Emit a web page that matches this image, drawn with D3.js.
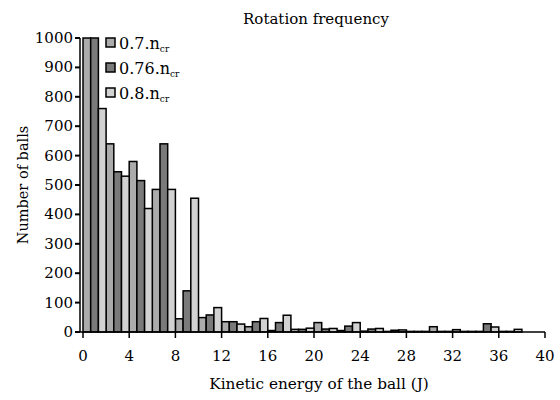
<!DOCTYPE html>
<html>
<head>
<meta charset="utf-8">
<script src="https://cdn.jsdelivr.net/npm/d3@7"></script>
<style>
  body { margin: 0; background: #fff; }
</style>
</head>
<body>
<svg id="chart" width="560" height="400"></svg>
<script>
// --- Data: bins of 2 J, three speeds per bin ---
const series = ["0.7", "0.76", "0.8"];
const binStarts = d3.range(0, 40, 2);
const v070 = [1000, 640, 580, 485, 45, 49, 35, 18, 5, 9, 32, 5, 3, 2, 2, 18, 8, 2, 2, 0];
const v076 = [1000, 545, 515, 640, 140, 58, 35, 35, 32, 9, 10, 20, 10, 6, 2, 2, 2, 28, 2, 0];
const v080 = [760, 530, 420, 485, 455, 83, 27, 46, 57, 13, 12, 32, 12, 7, 2, 2, 2, 17, 9, 0];
const xTicks = d3.range(0, 41, 4);
const yTicks = d3.range(0, 1001, 100);
const colors = { "0.7": "#ababab", "0.76": "#7a7a7a", "0.8": "#d2d2d2" };

const values = { "0.7": v070, "0.76": v076, "0.8": v080 };

const margin = { top: 38, right: 15, bottom: 68, left: 83 };
const svg = d3.select("#chart").style("font-family", "DejaVu Serif");
const width = 545 - margin.left;
const height = 332 - margin.top;

const g = svg.append("g").attr("transform", `translate(${margin.left},${margin.top})`);

// --- Scales ---
const x = d3.scaleLinear().domain([0, 40]).range([0, width]);
const y = d3.scaleLinear().domain([0, 1000]).range([height, 0]);
const xSub = d3.scaleBand().domain(series).range([0, x(2) - x(0)]).padding(0);

// --- Bars ---
series.forEach(s => {
    g.selectAll(null)
        .data(binStarts.map((b, i) => ({ b, v: values[s][i] })))
        .join("rect")
        .attr("x", d => x(d.b) + xSub(s))
        .attr("y", d => y(d.v))
        .attr("width", xSub.bandwidth())
        .attr("height", d => height - y(d.v))
        .attr("fill", colors[s])
        .attr("stroke", "#000")
        .attr("stroke-width", 1.5);
});

// --- Axes ---
const xAxisG = g.append("g").attr("transform", `translate(0,${height})`);
xAxisG.append("line")
    .attr("x1", -3).attr("x2", width)
    .attr("stroke", "#000").attr("stroke-width", 1.5);
xAxisG.selectAll(".xt").data(xTicks).join("line")
    .attr("x1", d => x(d)).attr("x2", d => x(d))
    .attr("y1", 0).attr("y2", 6)
    .attr("stroke", "#000").attr("stroke-width", 1.5);
xAxisG.selectAll(".xl").data(xTicks).join("text")
    .attr("x", d => x(d)).attr("y", 29)
    .attr("text-anchor", "middle")
    .attr("font-size", 15)
    .text(d => d);

const yAxisG = g.append("g").attr("transform", "translate(-3,0)");
yAxisG.append("line")
    .attr("y1", 0).attr("y2", height)
    .attr("stroke", "#000").attr("stroke-width", 1.5);
yAxisG.selectAll(".yt").data(yTicks).join("line")
    .attr("x1", -5).attr("x2", 0)
    .attr("y1", d => y(d)).attr("y2", d => y(d))
    .attr("stroke", "#000").attr("stroke-width", 2);
yAxisG.selectAll(".yl").data(yTicks).join("text")
    .attr("x", -7).attr("y", d => y(d) + 5)
    .attr("text-anchor", "end")
    .attr("font-size", 15)
    .text(d => d);

// --- Titles ---
svg.append("text")
    .attr("x", 316).attr("y", 24)
    .attr("text-anchor", "middle")
    .attr("font-size", 15)
    .text("Rotation frequency");

svg.append("text")
    .attr("x", 319).attr("y", 389)
    .attr("text-anchor", "middle")
    .attr("font-size", 15.3)
    .text("Kinetic energy of the ball (J)");

svg.append("text")
    .attr("transform", `translate(28,${margin.top + height / 2}) rotate(-90)`)
    .attr("text-anchor", "middle")
    .attr("font-size", 14.5)
    .text("Number of balls");

// --- Legend ---
const legend = svg.append("g").attr("transform", "translate(106,38)");
series.forEach((s, i) => {
    const row = legend.append("g").attr("transform", `translate(0,${i * 25})`);
    row.append("rect")
        .attr("x", 0).attr("y", 0)
        .attr("width", 9).attr("height", 9)
        .attr("fill", colors[s])
        .attr("stroke", "#000").attr("stroke-width", 1.5);
    const t = row.append("text")
        .attr("x", 13).attr("y", 11)
        .attr("font-size", 16);
    t.append("tspan").text(s + ".n");
    t.append("tspan").attr("font-size", 9).attr("dy", 3).text("cr");
});
</script>
</body>
</html>
